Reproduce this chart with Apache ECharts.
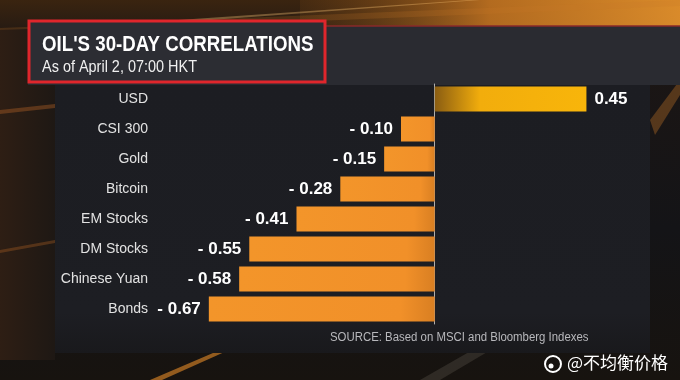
<!DOCTYPE html>
<html>
<head>
<meta charset="utf-8">
<script src="https://cdn.jsdelivr.net/npm/echarts@6/dist/echarts.min.js"></script>
<style>html,body{margin:0;padding:0;background:#141417;}#c{width:680px;height:380px;}</style>
</head>
<body>
<div id="c"></div>
<script>
const categories = ['USD', 'CSI 300', 'Gold', 'Bitcoin', 'EM Stocks', 'DM Stocks', 'Chinese Yuan', 'Bonds'];
const values = [0.45, -0.10, -0.15, -0.28, -0.41, -0.55, -0.58, -0.67];
const titleText = "OIL'S 30-DAY CORRELATIONS";
const subtitleText = 'As of April 2, 07:00 HKT';
const sourceText = 'SOURCE: Based on MSCI and Bloomberg Indexes';
const watermarkText = '@不均衡价格';

const chart = echarts.init(document.getElementById('c'));

const posGrad = new echarts.graphic.LinearGradient(0, 0, 1, 0, [
  {offset: 0, color: '#8a5d12'}, {offset: 0.3, color: '#f2ad0c'}, {offset: 1, color: '#f8b50a'}]);
const negGrad = new echarts.graphic.LinearGradient(0, 0, 1, 0, [
  {offset: 0, color: '#f3952a'}, {offset: 0.85, color: '#f19029'}, {offset: 1, color: '#d97f22'}]);

const data = values.map(v => ({
  value: v,
  itemStyle: {color: v >= 0 ? posGrad : negGrad},
  label: {position: v >= 0 ? 'right' : 'left', distance: 8}
}));

const bg = [
  {type: 'rect', shape: {x: 0, y: 0, width: 680, height: 380}, style: {fill: new echarts.graphic.LinearGradient(0, 0, 0, 1, [
    {offset: 0, color: '#3a2410'}, {offset: 0.12, color: '#1c1614'}, {offset: 0.6, color: '#141417'}, {offset: 1, color: '#17130f'}])}, silent: true},
  {type: 'rect', shape: {x: 300, y: 0, width: 380, height: 30}, style: {fill: new echarts.graphic.LinearGradient(0, 0, 1, 0, [
    {offset: 0, color: 'rgba(120,70,20,0.2)'}, {offset: 0.5, color: 'rgba(210,125,35,0.8)'}, {offset: 1, color: 'rgba(235,150,45,0.9)'}])}, silent: true},
  {type: 'polygon', shape: {points: [[0, 28], [680, 0], [680, 6], [0, 34]]}, style: {fill: 'rgba(200,120,40,0.2)'}, silent: true},
  {type: 'polygon', shape: {points: [[120, 24], [470, 0], [480, 0], [130, 26]]}, style: {fill: 'rgba(255,200,120,0.35)'}, silent: true},
  {type: 'polygon', shape: {points: [[0, 30], [55, 28], [55, 360], [0, 360]]}, style: {fill: new echarts.graphic.LinearGradient(0, 0, 1, 0, [
    {offset: 0, color: '#2e1e14'}, {offset: 1, color: '#1e1814'}])}, silent: true},
  {type: 'polygon', shape: {points: [[0, 110], [55, 104], [55, 108], [0, 114]]}, style: {fill: 'rgba(200,110,40,0.35)'}, silent: true},
  {type: 'polygon', shape: {points: [[0, 250], [55, 240], [55, 243], [0, 253]]}, style: {fill: 'rgba(200,110,40,0.3)'}, silent: true},
  {type: 'polygon', shape: {points: [[150, 380], [290, 320], [296, 320], [162, 380]]}, style: {fill: 'rgba(230,140,40,0.6)'}, silent: true},
  {type: 'polygon', shape: {points: [[420, 380], [560, 300], [575, 300], [440, 380]]}, style: {fill: 'rgba(120,110,100,0.25)'}, silent: true},
  {type: 'polygon', shape: {points: [[650, 120], [680, 80], [680, 95], [655, 135]]}, style: {fill: 'rgba(200,120,40,0.35)'}, silent: true},
  // header band
  {type: 'rect', shape: {x: 28, y: 26, width: 652, height: 59}, style: {fill: '#2a2b31'}, silent: true},
  {type: 'line', shape: {x1: 326, y1: 26, x2: 680, y2: 26}, style: {stroke: '#8a2a2a', lineWidth: 1.5}, silent: true},
  // main panel
  {type: 'rect', shape: {x: 55, y: 85, width: 595, height: 268}, style: {fill: new echarts.graphic.LinearGradient(0, 0, 0, 1, [
    {offset: 0, color: '#1c1d22'}, {offset: 0.85, color: '#1d1e23'}, {offset: 1, color: '#19191c'}])}, silent: true},
  // title box
  {type: 'rect', shape: {x: 29, y: 21, width: 296, height: 61}, style: {fill: '#2c2d33', stroke: '#e0262c', lineWidth: 3}, silent: true},
  {type: 'text', x: 42, y: 34, scaleX: 0.85, style: {text: titleText, fill: '#ffffff', verticalAlign: 'top', font: 'bold 22px "Liberation Sans", sans-serif'}, silent: true},
  {type: 'text', x: 42, y: 59, scaleX: 0.85, style: {text: subtitleText, fill: '#f0f0f0', verticalAlign: 'top', font: '17px "Liberation Sans", sans-serif'}, silent: true},
  {type: 'text', x: 330, y: 332, scaleX: 0.95, style: {text: sourceText, fill: '#b8b8bc', verticalAlign: 'top', font: '12px "Liberation Sans", sans-serif'}, silent: true},
  // watermark
  {type: 'circle', shape: {cx: 553, cy: 364, r: 8}, style: {fill: 'none', stroke: '#ffffff', lineWidth: 2}, silent: true},
  {type: 'circle', shape: {cx: 551, cy: 366, r: 2.5}, style: {fill: '#ffffff'}, silent: true},
  {type: 'text', left: 567, top: 354, style: {text: watermarkText, fill: '#ffffff', font: '17px "Noto Sans CJK SC", sans-serif'}, silent: true}
];

chart.setOption({
  backgroundColor: '#141417',
  animation: false,
  graphic: bg,
  grid: {left: 165, width: 472, top: 84, height: 240, containLabel: false},
  xAxis: {type: 'value', min: -0.8, max: 0.6, show: false},
  yAxis: {
    type: 'category', data: categories, inverse: true,
    axisLine: {show: true, onZero: true, lineStyle: {color: '#b0b0b0', width: 1}},
    axisTick: {show: false},
    axisLabel: {
      margin: 17, color: '#e2e2e2', fontSize: 14,
      fontFamily: '"Liberation Sans", sans-serif'
    },
    position: 'left'
  },
  series: [{
    type: 'bar', data: data, barWidth: 25, z: 1,
    label: {
      show: true, color: '#ffffff', fontWeight: 'bold', fontSize: 17,
      fontFamily: '"Liberation Sans", sans-serif',
      formatter: (p) => p.value < 0 ? '- ' + Math.abs(p.value).toFixed(2) : p.value.toFixed(2)
    }
  }]
});
</script>
</body>
</html>
